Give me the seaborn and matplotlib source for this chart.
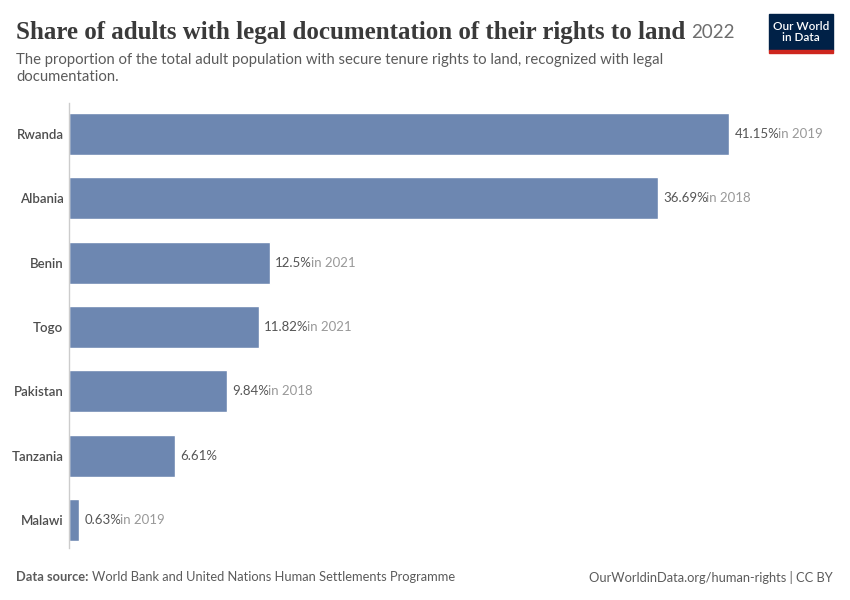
import matplotlib
matplotlib.use("Agg")
import matplotlib.pyplot as plt
import seaborn as sns
import pandas as pd
from matplotlib.patches import Rectangle

countries = ["Rwanda", "Albania", "Benin", "Togo", "Pakistan", "Tanzania", "Malawi"]
shares = [41.15, 36.69, 12.5, 11.82, 9.84, 6.61, 0.63]
years = ["2019", "2018", "2021", "2021", "2018", "", "2019"]
value_labels = ["41.15%", "36.69%", "12.5%", "11.82%", "9.84%", "6.61%", "0.63%"]

sns.set_theme(style="white")
plt.rcParams["font.family"] = ["Lato", "DejaVu Sans"]

df = pd.DataFrame({"country": countries, "share": shares})

fig = plt.figure(figsize=(8.5, 6), dpi=100)
W, H = 850, 600
ax = fig.add_axes([69 / W, 1 - 548 / H, (830 - 69) / W, (548 - 103) / H])

sns.barplot(data=df, x="share", y="country", color="#6d87b1", saturation=1,
            width=0.65, ax=ax)

ax.set_xlim(0, (830 - 69) / 16.04)
ax.set_ylim(6.435, -0.48)
ax.set_xlabel("")
ax.set_ylabel("")
ax.set_xticks([])
for s in ["top", "right", "bottom"]:
    ax.spines[s].set_visible(False)
ax.spines["left"].set_color("#cccccc")
ax.spines["left"].set_linewidth(1)
ax.tick_params(axis="y", length=0, pad=4)
for lab in ax.get_yticklabels():
    lab.set_fontsize(9.5)
    lab.set_color("#4d4d4d")
    lab.set_fontweight("semibold")

for i, (v, lab, yr) in enumerate(zip(shares, value_labels, years)):
    t = ax.annotate(lab, xy=(v, i), xytext=(4, 0), textcoords="offset points",
                    va="center", ha="left", fontsize=9.5, color="#555555")
    if yr:
        ax.annotate("in " + yr, xy=(1, 0.5), xycoords=t, xytext=(-1, 0),
                    textcoords="offset points", va="center", ha="left",
                    fontsize=9.5, color="#999999")

# header
title = fig.text(16 / W, 1 - 32 / H,
                 "Share of adults with legal documentation of their rights to land",
                 family=["Liberation Serif", "DejaVu Serif"], fontsize=18,
                 fontweight="bold", color="#3a3a3a", va="center", ha="left")
fig.canvas.draw()
bb = title.get_window_extent()
fig.text((bb.x1 + 6) / W, 1 - 33 / H, "2022", fontsize=13.5, color="#6e6e6e",
         va="center", ha="left")
fig.text(16 / W, 1 - 53 / H,
         "The proportion of the total adult population with secure tenure rights to land, recognized with legal\ndocumentation.",
         fontsize=10.7, color="#5b5b5b", va="top", ha="left", linespacing=1.3)

# logo
fig.patches.append(Rectangle((769 / W, 1 - 50 / H), 64 / W, 36 / H,
                             transform=fig.transFigure, color="#002147"))
fig.patches.append(Rectangle((769 / W, 1 - 52.5 / H), 64 / W, 2.5 / H,
                             transform=fig.transFigure, color="#ce261e"))
fig.text(801 / W, 1 - 32 / H, "Our World\nin Data", color="white", fontsize=8.5,
         fontweight="semibold", ha="center", va="center", linespacing=1.05)

# footer
src = fig.text(16 / W, 1 - 577 / H, "Data source:", fontsize=9.3, color="#5b5b5b",
               fontweight="bold", va="center", ha="left")
fig.canvas.draw()
bb = src.get_window_extent()
fig.text((bb.x1 + 4) / W, 1 - 577 / H,
         "World Bank and United Nations Human Settlements Programme",
         fontsize=9.3, color="#5b5b5b", va="center", ha="left")
fig.text(833 / W, 1 - 577 / H, "OurWorldinData.org/human-rights | CC BY",
         fontsize=9.3, color="#5b5b5b", va="center", ha="right")

fig.savefig("out.png", dpi=100)
